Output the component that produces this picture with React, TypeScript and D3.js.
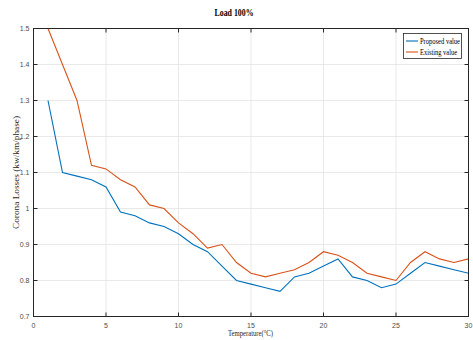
import React from "react";
import * as d3 from "d3";

const temperature = [1, 2, 3, 4, 5, 6, 7, 8, 9, 10, 11, 12, 13, 14, 15, 16, 17, 18, 19, 20, 21, 22, 23, 24, 25, 26, 27, 28, 29, 30];
const proposed = [1.3, 1.1, 1.09, 1.08, 1.06, 0.99, 0.98, 0.96, 0.95, 0.93, 0.9, 0.88, 0.84, 0.8, 0.79, 0.78, 0.77, 0.81, 0.82, 0.84, 0.86, 0.81, 0.8, 0.78, 0.79, 0.82, 0.85, 0.84, 0.83, 0.82];
const existing = [1.5, 1.4, 1.3, 1.12, 1.11, 1.08, 1.06, 1.01, 1.0, 0.96, 0.93, 0.89, 0.9, 0.85, 0.82, 0.81, 0.82, 0.83, 0.85, 0.88, 0.87, 0.85, 0.82, 0.81, 0.8, 0.85, 0.88, 0.86, 0.85, 0.86];
const xTicks = [0, 5, 10, 15, 20, 25, 30];
const yTicks = [0.7, 0.8, 0.9, 1.0, 1.1, 1.2, 1.3, 1.4, 1.5];
const seriesNames = ["Proposed value", "Existing value"];
const seriesColors = ["#0072BD", "#D95319"];

const width = 473;
const height = 340;
const left = 33.5;
const right = 468.5;
const top = 28.5;
const bottom = 316.5;

const tickFont = "'Liberation Sans Narrow', 'Liberation Sans', sans-serif";
const serif = "'Liberation Serif', serif";

const App = () => {
  const x = d3.scaleLinear().domain([0, 30]).range([left, right]);
  const y = d3.scaleLinear().domain([0.7, 1.5]).range([bottom, top]);

  const line = d3
    .line<number>()
    .x((d, i) => x(temperature[i]))
    .y((d) => y(d));

  const series = [proposed, existing];

  return (
    <svg
      width={width}
      height={height}
      style={{ position: "absolute", left: 0, top: 0, background: "white" }}
    >
      {/* grid */}
      {xTicks.map((t) => (
        <line key={"gx" + t} x1={x(t)} x2={x(t)} y1={top} y2={bottom} stroke="#e3e3e3" strokeWidth={0.8} />
      ))}
      {yTicks.map((t) => (
        <line key={"gy" + t} x1={left} x2={right} y1={y(t)} y2={y(t)} stroke="#e3e3e3" strokeWidth={0.8} />
      ))}

      {/* series */}
      {series.map((s, i) => (
        <path key={i} d={line(s) || ""} fill="none" stroke={seriesColors[i]} strokeWidth={1.1} />
      ))}

      {/* box and ticks */}
      <rect x={left} y={top} width={right - left} height={bottom - top} fill="none" stroke="#262626" strokeWidth={1} />
      {xTicks.map((t) => (
        <g key={"tx" + t}>
          <line x1={x(t)} x2={x(t)} y1={bottom} y2={bottom - 4} stroke="#262626" />
          <line x1={x(t)} x2={x(t)} y1={top} y2={top + 4} stroke="#262626" />
          <text x={x(t)} y={bottom + 11} textAnchor="middle" fontSize={7} fontFamily={tickFont} fill="#4d4d4d">
            {t}
          </text>
        </g>
      ))}
      {yTicks.map((t) => (
        <g key={"ty" + t}>
          <line x1={left} x2={left + 4} y1={y(t)} y2={y(t)} stroke="#262626" />
          <line x1={right} x2={right - 4} y1={y(t)} y2={y(t)} stroke="#262626" />
          <text x={left - 4} y={y(t) + 2.5} textAnchor="end" fontSize={7} fontFamily={tickFont} fill="#4d4d4d">
            {d3.format("")(+t.toFixed(1))}
          </text>
        </g>
      ))}

      {/* title and labels */}
      <text x={234} y={16} textAnchor="middle" fontSize={9.5} fontWeight="bold" fontFamily={serif} fill="#000"
        textLength={39} lengthAdjust="spacingAndGlyphs">
        Load 100%
      </text>
      <text x={250.5} y={336} textAnchor="middle" fontSize={8.5} fontFamily={serif} fill="#262626"
        textLength={45} lengthAdjust="spacingAndGlyphs">
        Temperature(°C)
      </text>
      <text
        transform={`translate(19,${(top + bottom) / 2}) rotate(-90)`}
        textAnchor="middle"
        fontSize={8.5}
        fontFamily={serif}
        fill="#262626"
        textLength={113}
        lengthAdjust="spacingAndGlyphs"
      >
        Corona Losses (kw/km/phase)
      </text>

      {/* legend */}
      <g>
        <rect x={403.5} y={33.5} width={58} height={25} fill="white" stroke="#262626" strokeWidth={0.8} />
        {seriesNames.map((n, i) => (
          <g key={n}>
            <line x1={406} x2={418} y1={41 + i * 11} y2={41 + i * 11} stroke={seriesColors[i]} strokeWidth={1.1} />
            <text x={420} y={44 + i * 11} fontSize={8.5} fontFamily={serif} fill="#000"
              textLength={i === 0 ? 40 : 37} lengthAdjust="spacingAndGlyphs">
              {n}
            </text>
          </g>
        ))}
      </g>
    </svg>
  );
};

export default App;
